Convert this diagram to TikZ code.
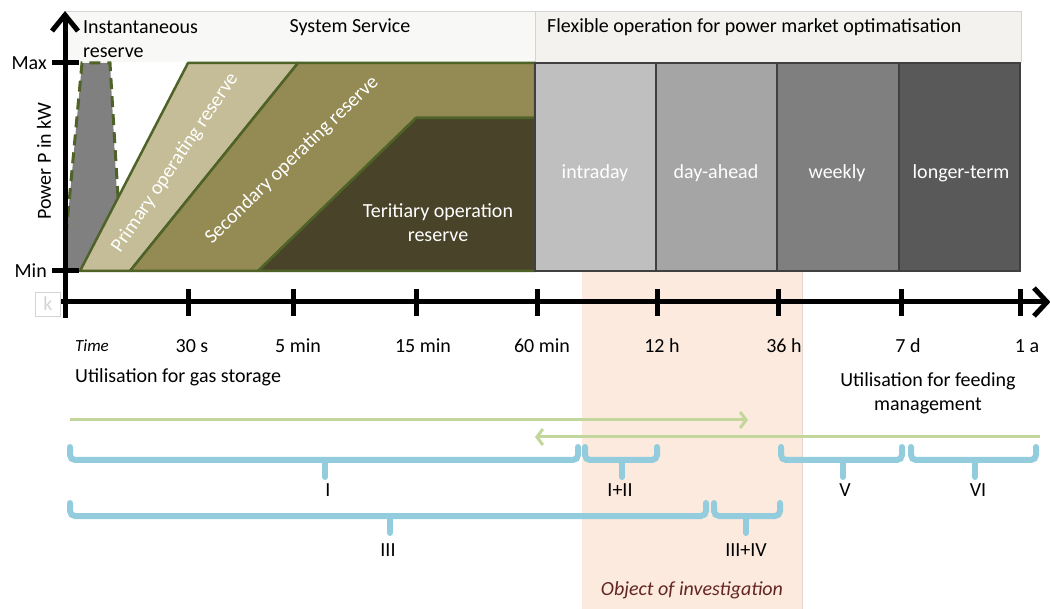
\documentclass[tikz,border=0pt]{standalone}
\usepackage{fontspec}
\setmainfont{Carlito}
\usetikzlibrary{arrows.meta}
\definecolor{hdrL}{HTML}{F8F8F7}
\definecolor{hdrR}{HTML}{F3F2EE}
\definecolor{hdrB}{HTML}{D4D4D4}
\definecolor{rgreen}{HTML}{4F6228}
\definecolor{prim}{HTML}{C4BD97}
\definecolor{secc}{HTML}{948A54}
\definecolor{terc}{HTML}{494429}
\definecolor{inst}{HTML}{808080}
\definecolor{mA}{HTML}{BFBFBF}
\definecolor{mB}{HTML}{A5A5A5}
\definecolor{mC}{HTML}{7F7F7F}
\definecolor{mD}{HTML}{595959}
\definecolor{mBorder}{HTML}{404040}
\definecolor{peach}{HTML}{FCEADF}
\definecolor{peachB}{HTML}{E3D6CE}
\definecolor{lgreen}{HTML}{C3D69B}
\definecolor{lblue}{HTML}{93CDDD}
\definecolor{dred}{HTML}{632523}
\tikzset{
  lbl/.style={font=\fontsize{20}{24}\selectfont, inner sep=0pt},
  wlbl/.style={lbl, text=white},
  ax/.style={line width=5pt, black},
  resv/.style={draw=rgreen, line width=2.5pt, line join=round},
  mbox/.style={draw=mBorder, line width=2.5pt},
  garrow/.style={lgreen, line width=3pt, -{Straight Barb[length=6pt,width=16pt,line width=3pt]}},
  bracebar/.style={lblue, line width=6pt, rounded corners=5pt, line cap=round},
}
\begin{document}
\begin{tikzpicture}[x=1pt,y=-1pt]
\useasboundingbox (0,0) rectangle (1050,609);
% header
\fill[hdrL] (65,12) rectangle (535,62);
\fill[hdrR] (535,12) rectangle (1021,62);
\draw[hdrB, line width=1pt] (65,62) -- (65,12) -- (1021,12) -- (1021,62);
\draw[hdrB, line width=1pt] (535,12) -- (535,62);
\node[lbl, anchor=west, align=left] (inst) at (83,39) {Instantaneous\\reserve};
\node[lbl] (sys) at (350,27) {System Service};
\node[lbl, anchor=west] (flex) at (547,27) {Flexible operation for power market optimatisation};
% object of investigation
\fill[peach] (582,272) rectangle (802,609);
\draw[peachB, line width=1pt] (802,272) -- (802,609);
\node[lbl, font=\fontsize{20}{24}\selectfont\itshape, text=dred] (obj) at (692,590) {Object of investigation};
% instantaneous reserve
\fill[inst] (63,271) -- (82,63) -- (110,63) -- (121,271) -- cycle;
\draw[rgreen, line width=3pt, dash pattern=on 11pt off 7pt] (66,235) -- (82,63) -- (110,63) -- (118,197);
% reserves
\filldraw[resv, fill=prim] (80,271) -- (188,63) -- (298,63) -- (130,271) -- cycle;
\filldraw[resv, fill=secc] (130,271) -- (298,63) -- (535,63) -- (535,118) -- (416,118) -- (258,271) -- cycle;
\filldraw[resv, fill=terc] (258,271) -- (416,118) -- (535,118) -- (535,271) -- cycle;
\node[wlbl, rotate=56] (pr) at (175,163) {Primary operating reserve};
\node[wlbl, rotate=44] (sr) at (292,160) {Secondary operating reserve};
\node[wlbl, align=center] (tr) at (438,223) {Teritiary operation\\reserve};
% market boxes
\filldraw[mbox, fill=mA] (535,63) rectangle (656,271);
\filldraw[mbox, fill=mB] (656,63) rectangle (777,271);
\filldraw[mbox, fill=mC] (777,63) rectangle (899,271);
\filldraw[mbox, fill=mD] (899,63) rectangle (1020,271);
\node[wlbl] (intra) at (595,173) {intraday};
\node[wlbl] (dah) at (716,173) {day-ahead};
\node[wlbl] (week) at (837,173) {weekly};
\node[wlbl] (long) at (961,173) {longer-term};
% faint k
\node[draw=hdrB, line width=0.8pt, text=hdrB, minimum width=25pt, minimum height=24pt, inner sep=0pt, font=\fontsize{20}{22}\selectfont] (k) at (48,304) {k};
% axes
\draw[ax] (65,318) -- (65,17);
\draw[ax, line join=miter] (52,31) -- (65,15) -- (78,31);
\draw[ax] (61,302) -- (1045,302);
\draw[ax, line join=miter] (1034,288) -- (1047,302) -- (1034,316);
\draw[ax] (52,63) -- (79,63);
\draw[ax] (52,271) -- (79,271);
\node[lbl, anchor=east] (max) at (47,63) {Max};
\node[lbl, anchor=east] (min) at (47,271) {Min};
\node[lbl, rotate=90] (pw) at (44,161) {Power P in kW};
\foreach \x in {188,293,416,537,657,778,901,1020} \draw[ax] (\x,289) -- (\x,316);
\node[lbl, font=\fontsize{17}{20}\selectfont\itshape] (time) at (92,346) {Time};
\node[lbl] (t1) at (192,346) {30 s};
\node[lbl] (t2) at (298,346) {5 min};
\node[lbl] (t3) at (423,346) {15 min};
\node[lbl] (t4) at (542,346) {60 min};
\node[lbl] (t5) at (662,346) {12 h};
\node[lbl] (t6) at (784,346) {36 h};
\node[lbl] (t7) at (908,346) {7 d};
\node[lbl] (t8) at (1027,346) {1 a};
\node[lbl, anchor=west] (gas) at (75,377) {Utilisation for gas storage};
\node[lbl, align=center] (feed) at (928,393) {Utilisation for feeding\\management};
% green arrows
\coordinate (g1s) at (70,420);
\coordinate (g1e) at (748,420);
\coordinate (g2s) at (1040,437);
\coordinate (g2e) at (535,437);
\draw[garrow] (g1s) -- (g1e);
\draw[garrow] (g2s) -- (g2e);
% braces
\draw[bracebar] (70,447) -- (70,460) -- (578,460) -- (578,447);
\draw[bracebar, rounded corners=0pt] (325,460) -- (325,477);
\node[lbl] (bI) at (328,490) {I};
\draw[bracebar] (585,447) -- (585,460) -- (657,460) -- (657,447);
\draw[bracebar, rounded corners=0pt] (622,460) -- (622,477);
\node[lbl] (bII) at (620,490) {I+II};
\draw[bracebar] (781,447) -- (781,460) -- (902,460) -- (902,447);
\draw[bracebar, rounded corners=0pt] (843,460) -- (843,477);
\node[lbl] (bV) at (845,490) {V};
\draw[bracebar] (911,447) -- (911,460) -- (1036,460) -- (1036,447);
\draw[bracebar, rounded corners=0pt] (975,460) -- (975,477);
\node[lbl] (bVI) at (978,490) {VI};
\draw[bracebar] (70,503) -- (70,516) -- (706,516) -- (706,503);
\draw[bracebar, rounded corners=0pt] (390,516) -- (390,533);
\node[lbl] (bIII) at (388,550) {III};
\draw[bracebar] (714,503) -- (714,516) -- (780,516) -- (780,503);
\draw[bracebar, rounded corners=0pt] (746,516) -- (746,533);
\node[lbl] (bIV) at (746,550) {III+IV};
\end{tikzpicture}
\end{document}
